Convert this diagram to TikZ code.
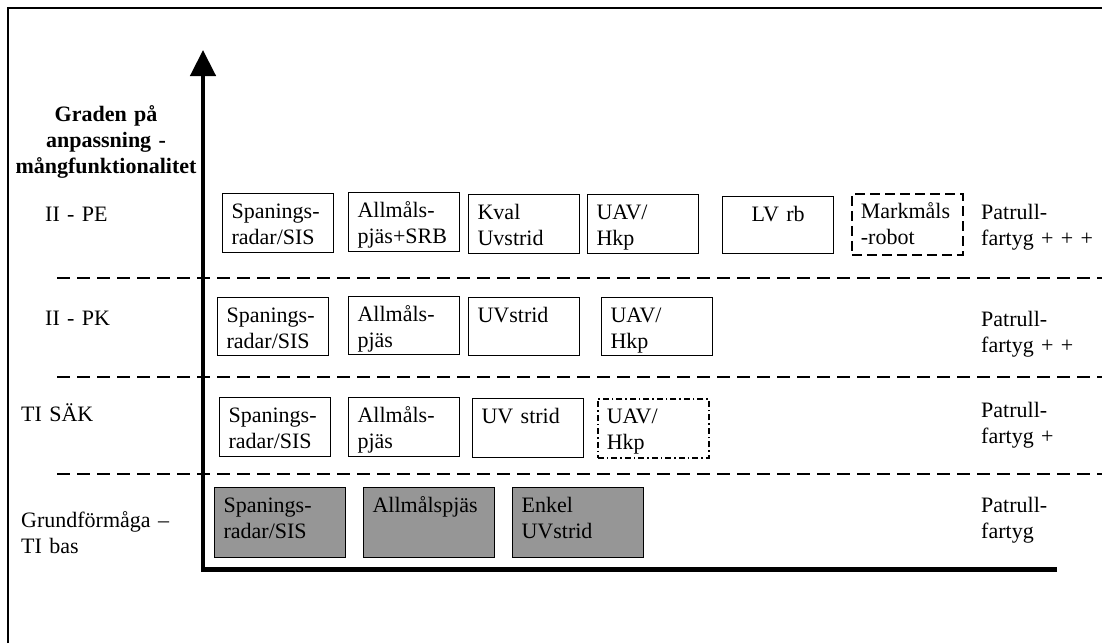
\documentclass[tikz,border=0pt]{standalone}
\usepackage{fontspec}
\setmainfont{Liberation Serif}
\usetikzlibrary{arrows.meta}

\definecolor{basegray}{RGB}{150,150,150}

\begin{document}
\begin{tikzpicture} [x=1pt, y=-1pt,
		every node/.style={font=\fontsize{22}{26}\selectfont},
		box/.style={draw, line width=1.2pt, anchor=north west, align=left,
			inner xsep=9pt, inner ysep=4pt, text width=93pt,
			text height=21pt, text depth=30pt},
		basebox/.style={box, fill=basegray, text width=113pt, text depth=41pt},
		markbox/.style={box, line width=1.8pt, dash pattern=on 10pt off 5pt},
		dotbox/.style={box, line width=1.5pt, dash pattern=on 6pt off 3pt on 1.5pt off 3pt},
		rowlabel/.style={anchor=base west, inner sep=0pt, align=left, text width=170pt},
		axistitle/.style={anchor=base, inner sep=0pt, align=center, text width=200pt,
			font=\fontsize{22}{26}\selectfont\bfseries},
		divider/.style={line width=2pt, dash pattern=on 13pt off 7pt},
		axis/.style={line width=4.5pt, -{Triangle[width=25pt, length=26pt]}}]

		\useasboundingbox (0,0) rectangle (1102,643);

		\draw [line width=1.5pt] (8,643) -- (8,8) -- (1102,8);

		\draw [divider] (57,278) -- (1102,278);

		\draw [divider] (57,377) -- (1102,377);

		\draw [divider] (57,474) -- (1102,474);

		\coordinate (origin) at (203,569.5);
		\coordinate (xend) at (1057,569.5);
		\coordinate (ytip) at (203,50);

		\draw [axis] (xend) -- (origin) -- (ytip);

		\node[axistitle] (ytitle) at (106,121)%
		{Graden på\\ anpassning -\\ mångfunktionalitet};

		% row labels
		\node[rowlabel] (pe) at (45,221) {II - PE};

		\node[rowlabel] (pk) at (45,325) {II - PK};

		\node[rowlabel] (sak) at (21,421) {TI SÄK};

		\node[rowlabel] (bas) at (21,527)%
		{Grundförmåga –\\ TI bas};

		% II - PE
		\node[box] (pe1) at (222,193)%
		{Spanings-\\ radar/SIS};

		\node[box] (pe2) at (348,192)%
		{Allmåls-\\ pjäs+SRB};

		\node[box] (pe3) at (468,194)%
		{Kval\\ Uvstrid};

		\node[box] (pe4) at (587,194)%
		{UAV/\\ Hkp};

		\node[box, align=center, text depth=28pt] (pe5) at (722,196)%
		{LV rb};

		\node[markbox, text depth=32pt] (pe6) at (851,193)%
		{Markmåls\\ -robot};

		% II - PK
		\node[box, text depth=29pt] (pk1) at (217,297)%
		{Spanings-\\ radar/SIS};

		\node[box, text depth=29pt] (pk2) at (348,296)%
		{Allmåls-\\ pjäs};

		\node[box, text depth=29pt] (pk3) at (468,297)%
		{UVstrid};

		\node[box, text depth=29pt] (pk4) at (601,297)%
		{UAV/\\ Hkp};

		% TI SÄK
		\node[box] (sk1) at (219,397)%
		{Spanings-\\ radar/SIS};

		\node[box] (sk2) at (348,397)%
		{Allmåls-\\ pjäs};

		\node[box] (sk3) at (472,398)%
		{UV strid};

		\node[dotbox] (sk4) at (597,398)%
		{UAV/\\ Hkp};

		% TI bas
		\node[basebox] (gb1) at (214,487)%
		{Spanings-\\ radar/SIS};

		\node[basebox] (gb2) at (363,487)%
		{Allmålspjäs};

		\node[basebox] (gb3) at (512,487)%
		{Enkel\\ UVstrid};

		% ship levels
		\node[rowlabel] (f3) at (981,219)%
		{Patrull-\\ fartyg + + +};

		\node[rowlabel] (f2) at (981,326)%
		{Patrull-\\ fartyg + +};

		\node[rowlabel] (f1) at (981,417)%
		{Patrull-\\ fartyg +};

		\node[rowlabel] (f0) at (981,512)%
		{Patrull-\\ fartyg};
	\end{tikzpicture}
\end{document}
